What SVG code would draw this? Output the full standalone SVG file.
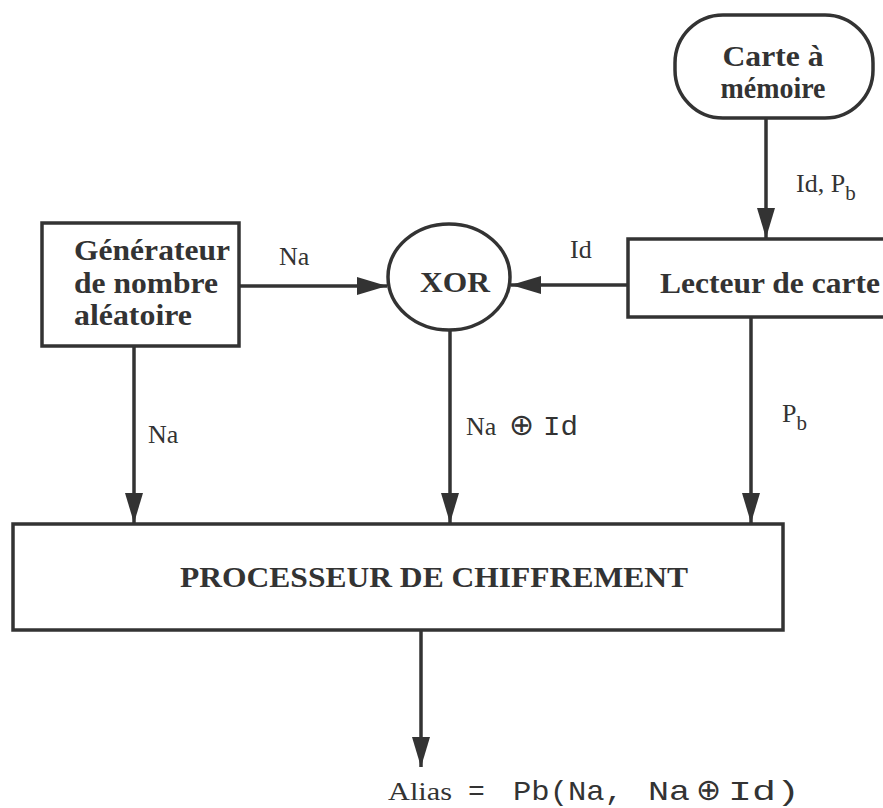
<svg xmlns="http://www.w3.org/2000/svg" width="883" height="808" viewBox="0 0 883 808">
<defs>
<marker id="ah" viewBox="0 0 30 18" refX="30" refY="9" markerWidth="30" markerHeight="18" markerUnits="userSpaceOnUse" orient="auto">
<path d="M0,0 L30,9 L0,18 z" fill="#333"/>
</marker>
<style>
.box{fill:#fff;stroke:#333;stroke-width:3.5}
.ln{fill:none;stroke:#333;stroke-width:3.5;marker-end:url(#ah)}
.b{font-family:'Liberation Serif','Times New Roman',serif;font-weight:bold;font-size:29px;fill:#333}
.r{font-family:'Liberation Serif','Times New Roman',serif;font-size:26px;fill:#333}
.m{font-family:'Liberation Mono','Courier New',monospace;font-size:28px;fill:#333}
.s{font-family:'DejaVu Sans',sans-serif;font-size:30px;fill:#333}
</style>
</defs>
<rect width="883" height="808" fill="#fff"/>
<g id="connectors">
<line class="ln" x1="766" y1="118" x2="766" y2="238"/>
<line class="ln" x1="628" y1="285" x2="511" y2="285"/>
<line class="ln" x1="239" y1="286" x2="387" y2="286"/>
<line class="ln" x1="134" y1="346" x2="134" y2="523"/>
<line class="ln" x1="450" y1="330" x2="450" y2="523"/>
<line class="ln" x1="751" y1="317" x2="751" y2="523"/>
<line class="ln" x1="421" y1="630" x2="421" y2="767"/>
<text class="r" x="796" y="192">Id, P<tspan dy="8" font-size="21">b</tspan></text>
<text class="r" x="570" y="258">Id</text>
<text class="r" x="279" y="265">Na</text>
<text class="r" x="148" y="443">Na</text>
<text class="r" x="466" y="435">Na</text>
<text class="s" x="509" y="435">⊕</text>
<text class="m" x="543" y="435" textLength="35" lengthAdjust="spacingAndGlyphs">Id</text>
<text class="r" x="782" y="422">P<tspan dy="8" font-size="21">b</tspan></text>
</g>
<g id="carte">
<rect class="box" x="675" y="15" width="198" height="103" rx="48" ry="48"/>
<text class="b" x="773" y="66" text-anchor="middle" textLength="101" lengthAdjust="spacingAndGlyphs">Carte à</text>
<text class="b" x="773" y="98" text-anchor="middle" textLength="105" lengthAdjust="spacingAndGlyphs">mémoire</text>
</g>
<g id="lecteur">
<rect class="box" x="628" y="239" width="280" height="78"/>
<text class="b" x="660" y="293" textLength="220" lengthAdjust="spacingAndGlyphs">Lecteur de carte</text>
</g>
<g id="xor">
<ellipse class="box" cx="449" cy="277" rx="61" ry="53"/>
<text class="b" x="420" y="292" textLength="70" lengthAdjust="spacingAndGlyphs">XOR</text>
</g>
<g id="generateur">
<rect class="box" x="42" y="223" width="197" height="123"/>
<text class="b" x="74" y="260" textLength="156" lengthAdjust="spacingAndGlyphs">Générateur</text>
<text class="b" x="74" y="293" textLength="144" lengthAdjust="spacingAndGlyphs">de nombre</text>
<text class="b" x="74" y="325" textLength="118" lengthAdjust="spacingAndGlyphs">aléatoire</text>
</g>
<g id="processeur">
<rect class="box" x="13" y="524" width="770" height="106"/>
<text class="b" x="180" y="587" textLength="508" lengthAdjust="spacingAndGlyphs">PROCESSEUR DE CHIFFREMENT</text>
</g>
<g id="alias">
<text class="r" x="388" y="800" font-size="29" textLength="64" lengthAdjust="spacingAndGlyphs">Alias</text>
<text class="m" x="468" y="800">=</text>
<text class="m" x="513" y="800" textLength="110" lengthAdjust="spacingAndGlyphs">Pb(Na,</text>
<text class="m" x="648" y="800" textLength="42" lengthAdjust="spacingAndGlyphs">Na</text>
<text class="s" x="696" y="800">⊕</text>
<text class="m" x="728" y="800" textLength="72" lengthAdjust="spacingAndGlyphs">Id)</text>
</g>
</svg>
